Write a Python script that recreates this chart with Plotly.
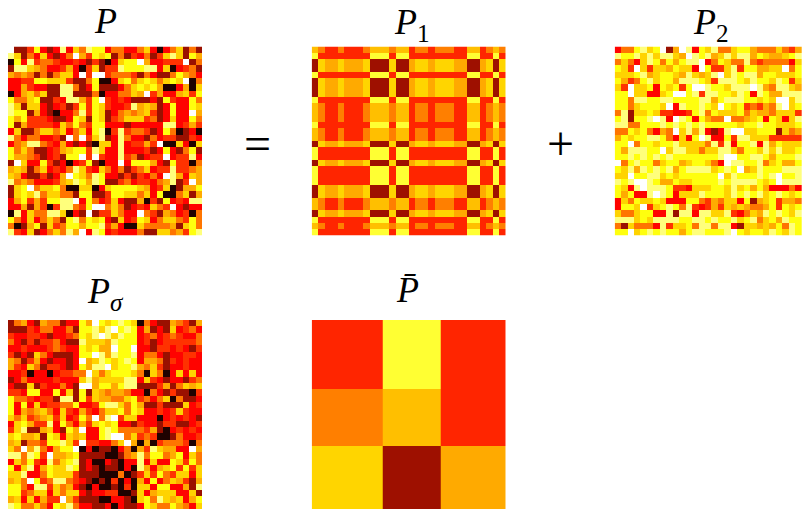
import plotly.graph_objects as go

# colour levels used when reading the noisy matrices off the picture
LEVELS = [0.0, 0.13, 0.24, 0.32, 0.38, 0.46, 0.56, 0.63, 0.78, 0.97]

P_ROWS = [
    "0886278717 3512275577 5379753858",
    "1385737875 0462328586 7586313824",
    "9271655677 6786897322 0477666085",
    "8113457764 7963866122 2117397658",
    "4545858533 7060065556 8578852457",
    "7766223336 8852997325 3235323095",
    "7746778811 5872888753 2324997493",
    "9743538811 8885977553 4064774362",
    "2553288671 1462067678 8878267725",
    "1383378768 6262367761 4348727723",
    "1228478977 5162387545 4368727704",
    "2426667887 2382386533 3658737725",
    "2846666735 2562277787 7777117646",
    "7388533537 5372196165 5687259879",
    "1575577680 5063187157 7857668867",
    "7541156747 8789337176 6460993793",
    "2535887643 2261377177 7687278528",
    "2445687682 2060677165 8766076617",
    "8037726879 7628977072 2247826695",
    "4348537675 1367357586 5376616654",
    "3478868740 2351277868 6757014734",
    "1545777643 1241288657 6675418604",
    "8320533259 9339732222 3476398442",
    "8323153355 8228862233 5372995384",
    "7426462211 0725763788 4968276711",
    "7748469611 5620053587 6735607877",
    "9173551139 7808663577 0568457695",
    "2573753582 1523278376 2375335625",
    "5984283652 2422164799 3555548325",
    "1673875351 4071276777 5883354621",
]

# last column of P2 falls outside the picture
P2_ROWS = [
    "7552132084 0172315532 245553564",
    "1221313113 4012143131 142344321",
    "5357312524 2110752355 156555573",
    "2360363342 3370266316 224433052",
    "3332143223 4134310312 114223332",
    "2465213224 1112361112 312231263",
    "3603327232 6200122311 101451134",
    "2203377320 0216112231 271244111",
    "2251122112 2221142111 223230031",
    "2253222307 1221230232 656451032",
    "5183323667 7621523332 534453336",
    "2182210170 1272455055 432723731",
    "1155222121 2121222223 221223332",
    "5523257450 3141787100 332228354",
    "4232211257 3720177261 133366666",
    "2205223221 3333516172 217142333",
    "2411122031 1335331135 223131332",
    "2212121212 2222221002 211242221",
    "0521225322 4322357011 221532442",
    "2314121214 2111132120 431222111",
    "3302211323 2222220312 221210221",
    "1210012442 3322221211 112320111",
    "2371011126 6733322313 242477757",
    "2427710127 3331222312 121321232",
    "7352332377 7225645337 284326445",
    "7223063212 5167646343 455426232",
    "3553227718 1171133167 534121231",
    "1113231111 2211212213 215324122",
    "5835557163 3251151178 334342512",
    "2203212122 4211222102 322312312",
]

P_SIGMA_ROWS = [
    "85478455877 240232123 9578845684",
    "88867557758 221310212 7487837657",
    "67766787765 231013122 7657656775",
    "57868665788 133341222 7687666665",
    "77677765677 232440220 7786676786",
    "68783578887 220141221 7557877667",
    "45864787787 043123212 7445867677",
    "46735866787 241103221 4536877677",
    "77697797665 503532223 5935973737",
    "87577776777 314333311 7367877865",
    "78838677578 004224211 8886485343",
    "66722772738 283454457 7957868896",
    "25567668118 263445532 6575395887",
    "27273766552 776211352 4886888376",
    "27454357367 467533252 3776763677",
    "35365436376 250510633 7779767678",
    "73246617257 463232778 6778668876",
    "63188437824 077212555 5648976767",
    "32443823734 377210053 6569985776",
    "43855622136 066775304 9496555695",
    "35041574220 979889759 4613447704",
    "11512604432 888899854 1522542735",
    "73526715321 879978977 1737723625",
    "27317423312 878988979 1474326263",
    "33177523336 888999598 6362563373",
    "43502651156 789896979 4727534684",
    "22571163547 897998969 3372277481",
    "22653373533 787766998 3743337738",
    "43737466046 888997789 3251343742",
    "12553572315 778879788 7235524573",
]

ROW_GROUP = [1, 0, 2, 2, 0, 2, 2, 2, 0, 1, 1, 1, 0, 1, 1,
             2, 0, 0, 2, 0, 0, 0, 2, 2, 1, 1, 2, 0, 1, 0]
COL_GROUP = [1, 0, 2, 2, 0, 2, 2, 2, 0, 1, 1, 1, 0, 1, 1,
             2, 0, 0, 2, 0, 0, 0, 2, 2, 1, 1, 2, 0, 1, 0]

P_BAR = [
    [0.58, 0.203, 0.58],
    [0.445, 0.349, 0.58],
    [0.317, 0.774, 0.381],
]
BAR_EDGES = [0, 11, 20, 30]

HOT_R = [[0, "#ffffff"], [0.254, "#ffff00"], [0.635, "#ff0000"],
         [0.774, "#9e1000"], [1, "#0b0000"]]


def decode(rows):
    return [[LEVELS[int(c)] for c in r.replace(" ", "")] for r in rows]


# P1 has the block values of P_BAR, the column order in COL_GROUP
P1 = [[P_BAR[ROW_GROUP[i]][COL_GROUP[j]] for j in range(30)] for i in range(30)]

W = 802
H = 512

fig = go.Figure()


def add_panel(n, z, left, top, right, bottom, x=None, y=None, xrange=None, yrange=None):
    fig.add_trace(go.Heatmap(
        z=z, x=x, y=y, xaxis=f"x{n}", yaxis=f"y{n}",
        colorscale=HOT_R, zmin=0, zmax=1, showscale=False,
    ))
    fig.update_layout({
        f"xaxis{n}": dict(domain=[left / W, right / W], visible=False,
                          anchor=f"y{n}", range=xrange),
        f"yaxis{n}": dict(domain=[1 - bottom / H, 1 - top / H], visible=False,
                          anchor=f"x{n}", range=yrange),
    })


add_panel(1, decode(P_ROWS), 8, 46.5, 202, 235.5, xrange=[-0.5, 29.5], yrange=[29.5, -0.5])
add_panel(2, P1, 311.7, 46.5, 505.7, 235.5, xrange=[-0.5, 29.5], yrange=[29.5, -0.5])
add_panel(3, decode(P2_ROWS), 614.7, 46.5, 802, 235.5, xrange=[-0.5, 28.5], yrange=[29.5, -0.5])
add_panel(4, decode(P_SIGMA_ROWS), 8, 320, 202, 509, xrange=[-0.5, 29.5], yrange=[29.5, -0.5])
add_panel(5, P_BAR, 311.7, 320, 505.7, 509, x=BAR_EDGES, y=BAR_EDGES, xrange=[0, 30], yrange=[30, 0])


def label(text, px, py, size=36):
    fig.add_annotation(
        text=text, x=px / W, y=1 - py / H, xref="paper", yref="paper",
        showarrow=False, xanchor="center", yanchor="middle",
        font=dict(family="Liberation Serif", size=size, color="black"),
    )


label("<i>P</i>", 105, 21)
label("<i>P</i><sub>1</sub>", 412, 24)
label("<i>P</i><sub>2</sub>", 711, 24)
label("<i>P</i><sub><i>σ</i></sub>", 105, 293)
label("<i>P\u0304</i>", 408, 290)
label("=", 257, 143, 48)
label("+", 560, 143, 48)

fig.update_layout(
    width=W, height=H,
    margin=dict(l=0, r=0, t=0, b=0),
    plot_bgcolor="white",
    paper_bgcolor="white",
)

# page default body margin would push the figure off the window
fig.write_html("out.html", config={"displayModeBar": False},
               post_script="document.body.style.margin = '0';")
